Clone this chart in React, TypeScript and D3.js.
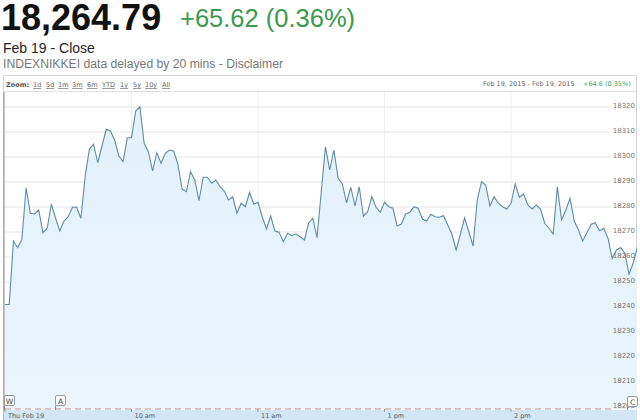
import React from "react";
import * as d3 from "d3";

const values: number[] = [
  18241, 18241, 18266.4, 18263.7, 18267, 18287.7, 18277.5, 18277.2, 18278.8, 18269.7,
  18271.5, 18281.2, 18275.5, 18270.4, 18274.4, 18276.1, 18279.9, 18279.9, 18275.5, 18292.1,
  18303.1, 18305.1, 18297.7, 18304.4, 18311.1, 18310.4, 18306.8, 18300.4, 18298.1, 18307.7,
  18307.7, 18318.4, 18320.1, 18305.5, 18302.1, 18294.4, 18301.7, 18297.5, 18301.5, 18302.8,
  18302.4, 18297.1, 18287.1, 18286.1, 18294.1, 18290.8, 18282.5, 18291.9, 18291.9, 18289.5,
  18290.8, 18288.1, 18286.4, 18282.8, 18284.1, 18277.5, 18281.5, 18280.1, 18285.9, 18281.1,
  18281.9, 18276.1, 18271.2, 18276.4, 18270.4, 18269.9, 18266.1, 18269.5, 18268.5, 18269.2,
  18268.1, 18266.8, 18273.5, 18275.5, 18267.7, 18286, 18304.1, 18294.8, 18302.8, 18291.5,
  18289.2, 18281.7, 18287.9, 18280.4, 18288.1, 18276.4, 18278.1, 18284.1, 18279.9, 18277.9,
  18281.9, 18280.1, 18279.5, 18272.4, 18273.2, 18277.2, 18277.9, 18280.1, 18279.5, 18275.2,
  18274.4, 18277.1, 18276.1, 18275.9, 18276.5, 18272.8, 18269.1, 18262.8, 18269.1, 18275.7,
  18270.1, 18264.4, 18282.8, 18290.1, 18288.8, 18280.4, 18284.1, 18281.5, 18280.1, 18279.2,
  18281.5, 18289.2, 18283.9, 18285.2, 18280.8, 18279.2, 18280.8, 18279.2, 18273.5, 18271.5,
  18269.2, 18288.1, 18274.8, 18278.8, 18283.5, 18274.4, 18270.8, 18266.4, 18269.7, 18273.1,
  18273.7, 18270.5, 18271.5, 18267.5, 18259.5, 18262.8, 18263.7, 18261.5, 18253.1, 18257.7,
  18264.1,
];

// trading minutes since 9:00 (lunch break 11:30-12:30 removed)
const xTickMinutes: number[] = [0, 60, 120, 180, 240];
const xTickLabels: string[] = ["Thu Feb 19", "10 am", "11 am", "1 pm", "2 pm"];
const yTicks: number[] = [18200, 18210, 18220, 18230, 18240, 18250, 18260, 18270, 18280, 18290, 18300, 18310, 18320];
const zoomLinks: string[] = ["1d", "5d", "1m", "3m", "6m", "YTD", "1y", "5y", "10y", "All"];
const zoomLinkX: number[] = [33, 46, 58, 72, 87, 102, 120, 133, 145, 162];
const MINUTES_PER_POINT = 2;

const small = "Verdana, 'DejaVu Sans', sans-serif";
const arial = "Arial, 'Liberation Sans', sans-serif";

export default function App() {
  const x = d3.scaleLinear().domain([0, 300]).range([5, 637.5]);
  const y = d3.scaleLinear().domain([18200, 18320]).range([407, 107]);
  const bottom = 409;
  const pts = values.map((v, i) => [x(i * MINUTES_PER_POINT), y(v)] as [number, number]);
  const line = d3.line<[number, number]>().x((d) => d[0]).y((d) => d[1]);
  const area = d3.area<[number, number]>().x((d) => d[0]).y0(bottom).y1((d) => d[1]);

  return (
    <svg width={640} height={420} style={{ position: "absolute", left: 0, top: 0, background: "#fff" }}>
      <defs>
        <linearGradient id="fillg" x1="0" y1="0" x2="0" y2="1">
          <stop offset="0%" stopColor="#e2f1fa" />
          <stop offset="100%" stopColor="#eaf5fc" />
        </linearGradient>
        <clipPath id="plotclip">
          <rect x={4} y={92} width={633} height={318} />
        </clipPath>
      </defs>
      <text x={1} y={30} fontFamily={arial} fontWeight="bold" fontSize={36} fill="#111">18,264.79</text>
      <text x={180} y={27} fontFamily={arial} fontSize={25.5} fill="#3a9a4c">+65.62 (0.36%)</text>
      <text x={3} y={53} fontFamily={arial} fontSize={14} fill="#222">Feb 19 - Close</text>
      <text x={3} y={68} fontFamily={arial} fontSize={12.5} fill="#777" textLength={280} lengthAdjust="spacingAndGlyphs">INDEXNIKKEI data delayed by 20 mins - Disclaimer</text>

      {/* chart box */}
      <rect x={3.5} y={75.5} width={633} height={350} fill="#fff" stroke="#d4d4d4" />
      <text x={6} y={87} fontFamily={small} fontSize={6.5} fontWeight="bold" fill="#555">Zoom:</text>
      {zoomLinks.map((z, i) => (
        <text key={z} x={zoomLinkX[i]} y={87} fontFamily={small} fontSize={6.5} fill="#666" textDecoration="underline">{z}</text>
      ))}
      <text x={483} y={86} fontFamily={small} fontSize={6.5} fill="#666">Feb 19, 2015  -  Feb 19, 2015</text>
      <text x={583} y={86} fontFamily={small} fontSize={6.5} fill="#4aa05a">+64.6 (0.35%)</text>
      <line x1={4} x2={637} y1={91.5} y2={91.5} stroke="#e0e0e0" />

      {/* grid */}
      {yTicks.map((t) => (
        <line key={t} x1={5} x2={612} y1={y(t)} y2={y(t)} stroke="#e6e6e6" strokeWidth={1.2} />
      ))}
      {xTickMinutes.slice(1).map((m) => (
        <line key={m} x1={x(m)} x2={x(m)} y1={92} y2={bottom} stroke="#f0f0f0" />
      ))}

      <g clipPath="url(#plotclip)">
        <path d={area(pts) || ""} fill="url(#fillg)" />
        <path d={line(pts) || ""} fill="none" stroke="#5e8ca4" strokeWidth={1.1} />
      </g>

      {yTicks.map((t) => (
        <text key={t} x={635} y={y(t) + 1} textAnchor="end" fontFamily={small} fontSize={7} fill="#777">{t}</text>
      ))}

      {/* left border */}
      <line x1={4} x2={4} y1={92} y2={420} stroke="#999" strokeWidth={1.2} />

      {/* x axis band */}
      <rect x={4} y={bottom + 1} width={633} height={11} fill="#d2e7f6" />
      <line x1={5} x2={612} y1={bottom} y2={bottom} stroke="#c98a8a" strokeDasharray="6,4" strokeWidth={1} />
      {xTickMinutes.map((m, i) => (
        <g key={m}>
          <line x1={x(m)} x2={x(m)} y1={bottom} y2={bottom + 3} stroke="#999" />
          <text x={x(m) + 3} y={418} fontFamily={small} fontSize={6.5} fill="#555">{xTickLabels[i]}</text>
        </g>
      ))}

      {/* flags */}
      {[
        { l: "W", fx: 4.5, fy: 395.5 },
        { l: "A", fx: 55.5, fy: 395.5 },
        { l: "C", fx: 627.5, fy: 396.5 },
      ].map((f) => (
        <g key={f.l}>
          <line x1={f.fx} x2={f.fx} y1={f.fy + 10} y2={bottom + 1} stroke="#888" />
          <rect x={f.fx} y={f.fy} width={10} height={10} rx={1.5} fill="#fff" stroke="#999" />
          <text x={f.fx + 5} y={f.fy + 8} textAnchor="middle" fontFamily={small} fontSize={7.5} fill="#444">{f.l}</text>
        </g>
      ))}
    </svg>
  );
}
